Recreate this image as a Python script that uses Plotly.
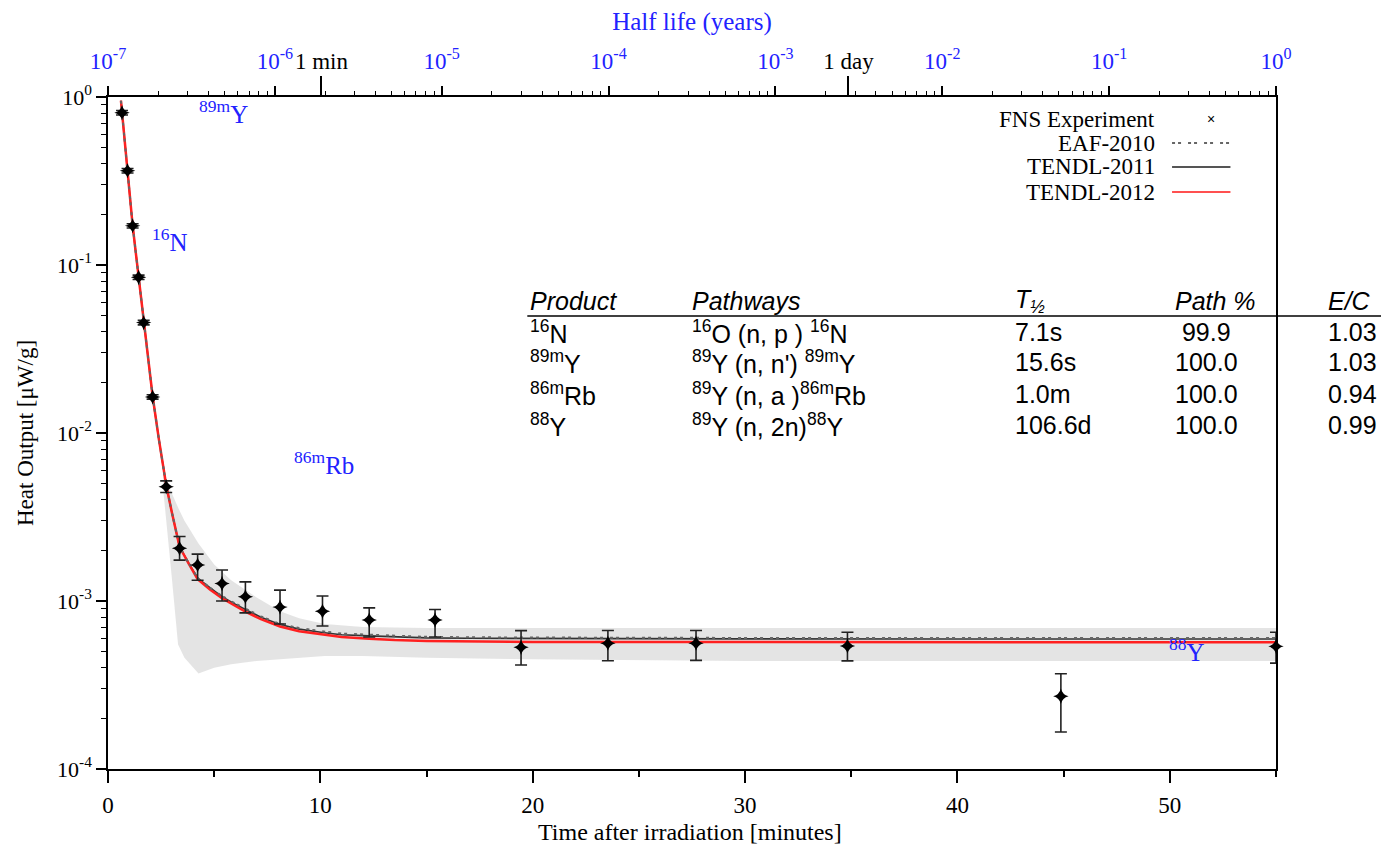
import plotly.graph_objects as go

# ---------------- data ----------------
t_exp = [0.66, 0.92, 1.16, 1.44, 1.68, 2.10, 2.74, 3.37, 4.22, 5.37, 6.47, 8.10,
         10.1, 12.3, 15.4, 19.45, 23.54, 27.69, 34.82, 44.87, 55.0]
h_exp = [0.806, 0.364, 0.171, 0.0845, 0.0454, 0.0164, 0.00479, 0.00206, 0.00164,
         0.00127, 0.00106, 0.00092, 0.00087, 0.00077, 0.00077, 0.00053, 0.000561,
         0.000561, 0.00054, 0.000271, 0.000537]
err_up = [0.025, 0.011, 0.005, 0.0025, 0.0014, 0.0005, 0.0004, 0.00036, 0.00026,
          0.00026, 0.00024, 0.00024, 0.0002, 0.00014, 0.00012, 0.000136, 0.000107,
          0.000107, 0.000112, 0.000098, 0.000115]
err_dn = [0.025, 0.011, 0.005, 0.0025, 0.0014, 0.0005, 0.00037, 0.00031, 0.00031,
          0.00027, 0.00021, 0.00019, 0.00016, 0.00016, 0.00016, 0.000114, 0.00012,
          0.000118, 0.0001, 0.000105, 0.00011]

t_model = [0.61, 0.66, 0.78, 0.92, 1.04, 1.16, 1.30, 1.44, 1.56, 1.68, 1.90, 2.10,
           2.40, 2.74, 3.00, 3.37, 3.80, 4.22, 4.80, 5.37, 5.90, 6.47, 7.20, 8.10,
           9.00, 10.1, 11.0, 12.3, 13.5, 15.0, 17.0, 20.0, 25.0, 30.0, 40.0, 55.0]
tendl2012 = [0.95, 0.81, 0.55, 0.365, 0.25, 0.172, 0.121, 0.085, 0.0625, 0.046, 0.0276,
             0.0166, 0.0091, 0.0049, 0.0034, 0.0021, 0.00167, 0.00135, 0.00117, 0.00104,
             0.00095, 0.000865, 0.00078, 0.000705, 0.00066, 0.00063, 0.00061, 0.000597,
             0.000585, 0.000578, 0.000574, 0.000571, 0.00057, 0.00057, 0.000569, 0.000568]
tendl2011 = [0.95, 0.81, 0.55, 0.365, 0.25, 0.172, 0.121, 0.085, 0.0625, 0.046, 0.0276,
             0.0166, 0.0091, 0.0049, 0.0034, 0.0021, 0.00168, 0.00137, 0.0012, 0.00106,
             0.00097, 0.00089, 0.0008, 0.000725, 0.00068, 0.00065, 0.00063, 0.00062,
             0.00061, 0.000603, 0.0006, 0.000598, 0.000596, 0.000595, 0.000594, 0.000594]
eaf2010 = [0.95, 0.81, 0.55, 0.365, 0.25, 0.172, 0.121, 0.085, 0.0625, 0.046, 0.0276,
           0.0166, 0.0091, 0.0049, 0.0034, 0.0021, 0.00168, 0.00137, 0.0012, 0.00107,
           0.00098, 0.0009, 0.00081, 0.00073, 0.00069, 0.00066, 0.00064, 0.00063,
           0.00062, 0.000612, 0.000608, 0.000605, 0.000604, 0.000603, 0.000603, 0.000603]

t_band = [2.6, 2.8, 3.0, 3.3, 3.6, 4.26, 5.0, 5.8, 7.0, 8.1, 9.0, 10.2, 12.0, 15.0,
          20.0, 30.0, 40.0, 55.0]
band_hi = [0.0058, 0.0050, 0.0044, 0.0036, 0.0030, 0.0022, 0.00165, 0.00133, 0.00105,
           0.00087, 0.00079, 0.00073, 0.0007, 0.00069, 0.00069, 0.00069, 0.00069, 0.00069]
band_lo = [0.0046, 0.0026, 0.0014, 0.00055, 0.00046, 0.00037, 0.0004, 0.00042, 0.00044,
           0.00045, 0.00046, 0.00047, 0.00047, 0.00046, 0.00045, 0.00044, 0.00044, 0.00044]

y_ticks = [1e-4, 1e-3, 1e-2, 1e-1, 1e0]
y_ticktext = ["10<sup>-4</sup>", "10<sup>-3</sup>", "10<sup>-2</sup>", "10<sup>-1</sup>", "10<sup>0</sup>"]
hl_ticks = [1e-7, 1e-6, 1e-5, 1e-4, 1e-3, 1e-2, 1e-1, 1e0]
hl_ticktext = ["10<sup>-7</sup>", "10<sup>-6</sup>", "10<sup>-5</sup>", "10<sup>-4</sup>",
               "10<sup>-3</sup>", "10<sup>-2</sup>", "10<sup>-1</sup>", "10<sup>0</sup>"]
hl_special = [1 / 525960.0, 1 / 365.25]
hl_special_text = ["1 min", "1 day"]

table_header = ["<i>Product</i>", "<i>Pathways</i>", "<i>T<sub>½</sub></i>", "<i>Path %</i>", "<i>E/C</i>"]
table_rows = [
    ["<sup>16</sup>N", "<sup>16</sup>O (n, p ) <sup>16</sup>N", "7.1s", " 99.9", "1.03"],
    ["<sup>89m</sup>Y", "<sup>89</sup>Y (n, n') <sup>89m</sup>Y", "15.6s", "100.0", "1.03"],
    ["<sup>86m</sup>Rb", "<sup>89</sup>Y (n, a )<sup>86m</sup>Rb", "1.0m", "100.0", "0.94"],
    ["<sup>88</sup>Y", "<sup>89</sup>Y (n, 2n)<sup>88</sup>Y", "106.6d", "100.0", "0.99"],
]
isotope_labels = ["<sup>89m</sup>Y", "<sup>16</sup>N", "<sup>86m</sup>Rb", "<sup>88</sup>Y"]

# ---------------- style ----------------
SERIF = "Liberation Serif, Times New Roman, serif"
SANS = "Liberation Sans, Arial, sans-serif"
BLUE = "#2222ff"

fig = go.Figure()

# uncertainty band
fig.add_trace(go.Scatter(x=t_band, y=band_lo, mode="lines", line=dict(width=0),
                         showlegend=False, hoverinfo="skip"))
fig.add_trace(go.Scatter(x=t_band, y=band_hi, mode="lines", line=dict(width=0),
                         fill="tonexty", fillcolor="rgba(225,225,225,0.9)",
                         showlegend=False, hoverinfo="skip"))

fig.add_trace(go.Scatter(x=t_model, y=tendl2011, mode="lines",
                         line=dict(color="#333333", width=1.6), showlegend=False))
fig.add_trace(go.Scatter(x=t_model, y=tendl2012, mode="lines",
                         line=dict(color="#ff2020", width=2.5), showlegend=False))
fig.add_trace(go.Scatter(x=t_model, y=eaf2010, mode="lines",
                         line=dict(color="#666666", width=2, dash="3px,3px,3px,7px"),
                         showlegend=False))

fig.add_trace(go.Scatter(
    x=t_exp, y=h_exp, mode="markers",
    marker=dict(symbol="star-diamond", size=11, color="black"),
    error_y=dict(type="data", array=err_up, arrayminus=err_dn, symmetric=False,
                 color="#222222", thickness=1.6, width=6),
    cliponaxis=False, showlegend=False))

# invisible traces to activate top axes
fig.add_trace(go.Scatter(x=[1e-7, 1], y=[1e-4, 1e-4], xaxis="x2", mode="markers",
                         marker=dict(opacity=0), showlegend=False, hoverinfo="skip"))
fig.add_trace(go.Scatter(x=[1e-7, 1], y=[1e-4, 1e-4], xaxis="x3", mode="markers",
                         marker=dict(opacity=0), showlegend=False, hoverinfo="skip"))

minor_y = [k * 10 ** e for e in range(-4, 0) for k in range(2, 10)]
minor_hl = [k * 10 ** e for e in range(-7, 0) for k in range(2, 10)]

# page body has an 8px default margin, so the figure is sized to fit inside it
fig.update_layout(
    width=1373, height=839,
    template="none",
    margin=dict(l=100, r=105, t=89, b=78, autoexpand=False),
    paper_bgcolor="white", plot_bgcolor="white",
    font=dict(family=SERIF, size=22, color="black"),
    showlegend=False,
    xaxis=dict(range=[0, 55], showgrid=False, zeroline=False, showline=True,
               automargin=False,
               linecolor="black", linewidth=1.5, mirror=True,
               tickvals=[0, 10, 20, 30, 40, 50], ticks="outside", ticklen=12,
               tickwidth=1.5, tickcolor="black", ticklabelstandoff=3,
               minor=dict(tickvals=[5, 15, 25, 35, 45, 55], ticks="outside", ticklen=6,
                          tickwidth=1.5, tickcolor="black"),
               tickfont=dict(family=SERIF, size=23)),
    yaxis=dict(type="log", range=[-4, 0], showgrid=False, zeroline=False, showline=True,
               automargin=False,
               linecolor="black", linewidth=1.5, mirror=True,
               tickvals=y_ticks, ticktext=y_ticktext, ticks="outside", ticklen=10,
               tickwidth=1.5, tickcolor="black",
               minor=dict(tickvals=minor_y, ticks="outside", ticklen=5, tickwidth=1.2,
                          tickcolor="black"),
               tickfont=dict(family=SERIF, size=22),
               title=dict(text="Heat Output [μW/g]", font=dict(family=SERIF, size=23),
                          standoff=17)),
    xaxis2=dict(type="log", range=[-7, 0], overlaying="x", side="top", anchor="y",
                automargin=False,
                showgrid=False, zeroline=False, showline=False,
                tickvals=hl_ticks, ticktext=hl_ticktext, ticks="outside", ticklen=10,
                tickwidth=1.5, tickcolor="black", ticklabelstandoff=8,
                minor=dict(tickvals=minor_hl, ticks="outside", ticklen=5, tickwidth=1.2,
                           tickcolor="black"),
                tickfont=dict(family=SERIF, size=23, color=BLUE),
                title=dict(text="Half life (years)", font=dict(family=SERIF, size=25, color=BLUE),
                           standoff=13)),
    xaxis3=dict(type="log", range=[-7, 0], overlaying="x", side="top", anchor="y",
                automargin=False,
                showgrid=False, zeroline=False, showline=False,
                tickvals=hl_special, ticktext=hl_special_text, ticks="outside", ticklen=20,
                tickwidth=1.5, tickcolor="black", ticklabelstandoff=-2,
                tickfont=dict(family=SERIF, size=23, color="black")),
)

annotations = []
shapes = []

# bottom axis title
annotations.append(dict(text="Time after irradiation [minutes]", x=0.498, y=-0.094,
                        xref="paper", yref="paper", xanchor="center", yanchor="middle",
                        showarrow=False, font=dict(family=SERIF, size=24, color="black")))

# isotope labels (blue)
iso_pos = [(0.0987, 0.978), (0.0533, 0.787), (0.185, 0.455), (0.924, 0.177)]
for txt, (px, py) in zip(isotope_labels, iso_pos):
    annotations.append(dict(text=txt, x=px, y=py, xref="paper", yref="paper",
                            xanchor="center", yanchor="middle",
                            showarrow=False, font=dict(family=SERIF, size=25, color=BLUE)))

# custom gnuplot-style legend
leg_names = ["FNS Experiment", "EAF-2010", "TENDL-2011", "TENDL-2012"]
leg_y = [0.967, 0.9315, 0.896, 0.8586]
for name, ly in zip(leg_names, leg_y):
    annotations.append(dict(text=name, x=0.8985, y=ly, xref="paper", yref="paper",
                            xanchor="right", yanchor="middle", showarrow=False,
                            font=dict(family=SERIF, size=23, color="black")))
annotations.append(dict(text="×", x=0.944, y=leg_y[0], xref="paper", yref="paper",
                        xanchor="center", yanchor="middle",
                        showarrow=False, font=dict(family=SANS, size=14, color="black")))
leg_line_styles = [dict(color="#666666", width=2, dash="3px,3px,3px,7px"),
                   dict(color="#555555", width=2),
                   dict(color="#ff5050", width=2)]
for ly, st in zip(leg_y[1:], leg_line_styles):
    shapes.append(dict(type="line", xref="paper", yref="paper", x0=0.911, x1=0.961,
                       y0=ly, y1=ly, line=st))

# table
col_x = [0.360, 0.4985, 0.775, 0.912, 1.043]
row_y = [0.696, 0.650, 0.6057, 0.558, 0.512]
for cx, txt in zip(col_x, table_header):
    annotations.append(dict(text=txt, x=cx, y=row_y[0], xref="paper", yref="paper",
                            xanchor="left", yanchor="middle", showarrow=False,
                            font=dict(family=SANS, size=25, color="black")))
for ry, row in zip(row_y[1:], table_rows):
    for cx, txt in zip(col_x, row):
        annotations.append(dict(text=txt, x=cx, y=ry, xref="paper", yref="paper",
                                xanchor="left", yanchor="middle", showarrow=False,
                                font=dict(family=SANS, size=25, color="black")))
shapes.append(dict(type="line", xref="paper", yref="paper", x0=0.359, x1=1.094,
                   y0=0.674, y1=0.674, line=dict(color="black", width=1.5)))

fig.update_layout(annotations=annotations, shapes=shapes)

fig.write_html("out.html")
